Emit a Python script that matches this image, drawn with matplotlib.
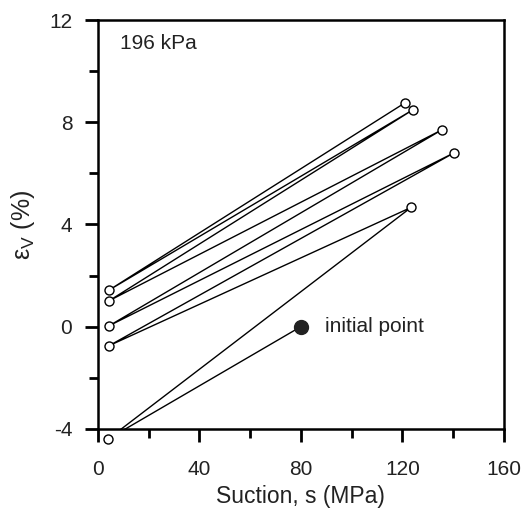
import matplotlib
matplotlib.use("Agg")
import matplotlib.pyplot as plt
from matplotlib.ticker import MultipleLocator

plt.rcParams["font.family"] = ["Liberation Sans", "DejaVu Sans"]
plt.rcParams["mathtext.default"] = "regular"
plt.rcParams["axes.unicode_minus"] = False

# wetting/drying path, starting from the initial point
suction = [80, 4, 123.5, 4.5, 140.5, 4.5, 135.5, 4.5, 124, 4.5, 121]
strain = [0.0, -4.4, 4.67, -0.74, 6.81, 0.04, 7.7, 1.02, 8.48, 1.44, 8.76]
init_suction = 80
init_strain = 0.0

fig = plt.figure(figsize=(5.27, 5.16), dpi=100)
ax = fig.add_axes([0.186, 0.169, 0.77, 0.792])

ax.plot(suction, strain, color="black", linewidth=1.0, zorder=2)
ax.plot(suction[1:], strain[1:], linestyle="none", marker="o",
        markersize=6.5, markerfacecolor="white", markeredgecolor="black",
        markeredgewidth=1.0, clip_on=False, zorder=3)
ax.plot([init_suction], [init_strain], linestyle="none", marker="o",
        markersize=10, color="#222222", zorder=4)

ax.text(89.5, init_strain, "initial point", fontsize=15, va="center",
        ha="left", color="#222222")
ax.text(0.054, 0.944, "196 kPa", transform=ax.transAxes, fontsize=15,
        va="center", ha="left", color="#222222")

ax.set_xlim(0, 160)
ax.set_ylim(-4, 12)
ax.xaxis.set_major_locator(MultipleLocator(40))
ax.xaxis.set_minor_locator(MultipleLocator(20))
ax.yaxis.set_major_locator(MultipleLocator(4))
ax.yaxis.set_minor_locator(MultipleLocator(2))
ax.tick_params(which="major", direction="out", length=9.5, width=2,
               labelsize=15, labelcolor="#222222")
ax.tick_params(axis="x", which="major", pad=13)
ax.tick_params(axis="y", which="major", pad=9)
ax.tick_params(which="minor", direction="out", length=6.5, width=2)
ax.tick_params(top=False, right=False, which="both")
for sp in ax.spines.values():
    sp.set_linewidth(1.8)

ax.set_xlabel("Suction, s (MPa)", fontsize=16.5, labelpad=4, color="#222222")
ax.set_ylabel("$ε_V$ (%)", fontsize=18, labelpad=9, color="#222222")

fig.savefig("out.png", dpi=100)
